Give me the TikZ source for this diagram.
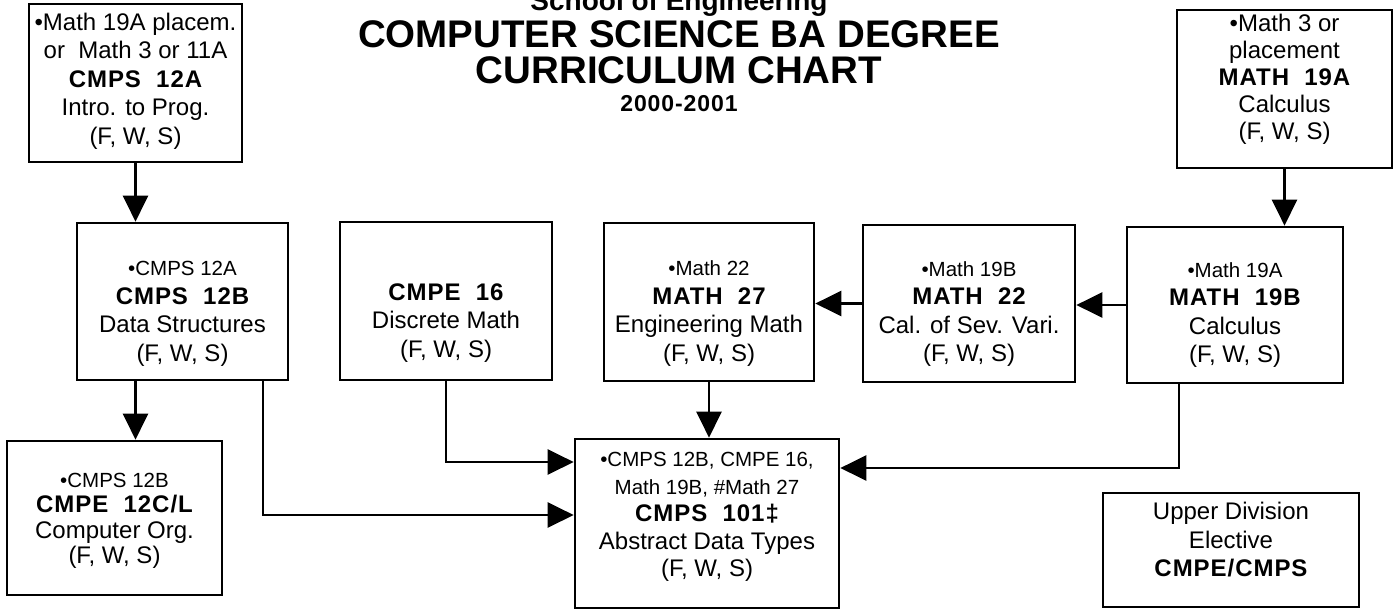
\documentclass[tikz,border=0pt]{standalone}
\usepackage{fontspec}
\setmainfont{Liberation Sans}
\newfontfamily\spc[LetterSpace=4]{Liberation Sans}
\usetikzlibrary{arrows.meta,calc}
\newcommand{\code}[1]{{\spc\bfseries #1}}
\newcommand{\prq}{\fontsize{20.5}{28}\selectfont}
\begin{document}
\begin{tikzpicture}[x=1pt,y=-1pt,
  box/.style={draw, line width=2.7pt, inner sep=0pt},
  txt/.style={align=center, inner sep=0pt, font=\fontsize{24}{28.5}\selectfont},
  arr/.style={line width=2.7pt, -{Triangle[length=26pt,width=25pt]}},
  ttl/.style={inner sep=0pt, font=\fontsize{38.5}{40}\selectfont\bfseries}]
\path[fill=white, use as bounding box] (0,0) rectangle (1398,611);

% title
\node[ttl, anchor=base, font=\fontsize{28}{30}\selectfont\bfseries] (school) at (679,10) {School of Engineering};
\node[ttl] (title1) at (679,34) {COMPUTER SCIENCE BA DEGREE};
\node[ttl] (title2) at (679,70) {CURRICULUM CHART};
\node[ttl, font=\fontsize{23}{26}\spc\bfseries] (year) at (679,104) {2000-2001};

% boxes
\node[box, minimum width=213pt, minimum height=158pt] (a12A) at (135.5,83) {};
\node[box, minimum width=215pt, minimum height=158pt] (m19A) at (1284.5,89) {};
\node[box, minimum width=211pt, minimum height=157pt] (b12B) at (182.5,301.5) {};
\node[box, minimum width=212pt, minimum height=158pt] (e16) at (446,301) {};
\node[box, minimum width=210pt, minimum height=158pt] (m27) at (709,302) {};
\node[box, minimum width=212pt, minimum height=157pt] (m22) at (969,303.5) {};
\node[box, minimum width=216pt, minimum height=156pt] (m19B) at (1235,305) {};
\node[box, minimum width=215pt, minimum height=154pt] (e12C) at (114.5,518) {};
\node[box, minimum width=264pt, minimum height=169pt] (c101) at (707,523.5) {};
\node[box, minimum width=256pt, minimum height=114pt] (ud) at (1231,550) {};

% texts
\node[txt] (a12At) at (135.5,81) {•Math 19A placem.\\ or\ \ Math 3 or 11A\\ \code{CMPS\ \ 12A}\\ Intro. to Prog.\\ (F, W, S)};
\node[txt, font=\fontsize{24}{27}\selectfont] (m19At) at (1284.5,79) {•Math 3 or\\ placement\\ \code{MATH\ \ 19A}\\ Calculus\\ (F, W, S)};
\node[txt] (b12Bt) at (182.5,314) {{\prq •CMPS 12A}\\ \code{CMPS\ \ 12B}\\ Data Structures\\ (F, W, S)};
\node[txt] (e16t) at (446,323) {\code{CMPE\ \ 16}\\ Discrete Math\\ (F, W, S)};
\node[txt] (m27t) at (709,313.5) {{\prq •Math 22}\\ \code{MATH\ \ 27}\\ Engineering Math\\ (F, W, S)};
\node[txt] (m22t) at (969,314) {{\prq •Math 19B}\\ \code{MATH\ \ 22}\\ Cal. of Sev. Vari.\\ (F, W, S)};
\node[txt] (m19Bt) at (1235,315) {{\prq •Math 19A}\\ \code{MATH\ \ 19B}\\ Calculus\\ (F, W, S)};
\node[txt, font=\fontsize{24}{25.5}\selectfont] (e12Ct) at (114.5,521) {{\prq •CMPS 12B}\\ \code{CMPE\ \ 12C/L}\\ Computer Org.\\ (F, W, S)};
\node[txt, font=\fontsize{24}{27.5}\selectfont] (c101t) at (707,517) {{\prq •CMPS 12B, CMPE 16,}\\ {\prq Math 19B, \#Math 27}\\ \code{CMPS\ \ 101‡}\\ Abstract Data Types\\ (F, W, S)};
\node[txt] (udt) at (1231,540) {Upper Division\\ Elective\\ \code{CMPE/CMPS}};

% helper coordinates
\coordinate (j16) at (0,462);
\coordinate (x12B) at (263,0);
\coordinate (j12B) at (0,515);
\coordinate (x19B) at (1179,0);
\coordinate (j19B) at (0,468);

% connectors
\draw[arr] (a12A.south) -- (a12A.south |- b12B.north);
\draw[arr] (a12A.south |- b12B.south) -- (a12A.south |- e12C.north);
\draw[arr] (m19A.south) -- (m19A.south |- m19B.north);
\draw[arr] (m19B.west) -- (m19B.west -| m22.east);
\draw[arr] (m22.west) -- (m22.west -| m27.east);
\draw[arr] (m27.south) -- (m27.south |- c101.north);
\draw[arr] (e16.south) |- (c101.west |- j16);
\draw[arr] (x12B |- b12B.south) |- (c101.west |- j12B);
\draw[arr] (x19B |- m19B.south) |- (c101.east |- j19B);
\end{tikzpicture}
\end{document}
